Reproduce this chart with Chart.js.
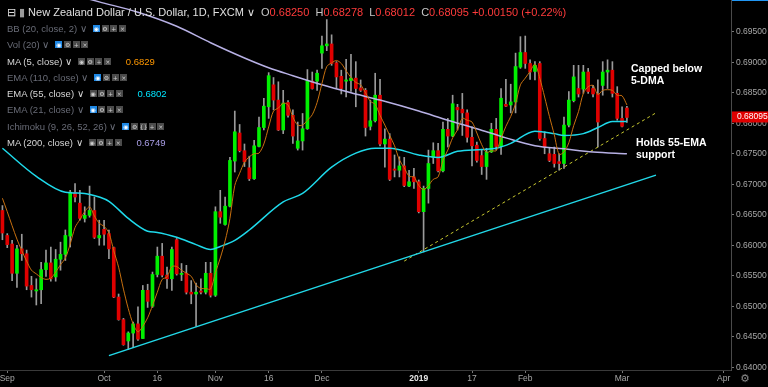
<!DOCTYPE html>
<html>
<head>
<meta charset="utf-8">
<script src="https://cdn.jsdelivr.net/npm/chart.js@4.4.1/dist/chart.umd.min.js"></script>
<style>
html, body { margin: 0; padding: 0; background: #000; }
#wrap { position: relative; width: 768px; height: 387px; overflow: hidden; background: #000; }
canvas { display: block; }
.row { position: absolute; left: 7px; height: 12px; line-height: 12px; font: 9.5px "Liberation Sans", Arial, sans-serif; color: #686b76; white-space: nowrap; }
.row.on { color: #d6d6d6; }
.bx { display: inline-block; width: 7px; height: 7px; margin-right: 1.7px; background: #4b4b4b; vertical-align: middle; position: relative; top: -1px; font: 6px "DejaVu Sans", sans-serif; line-height: 7px; text-align: center; color: #cfcfcf; }
.bx.b { background: #1e88e5; color: #fff; }
.gap { display: inline-block; width: 6px; }
.val { margin-left: 13px; }
#title { position: absolute; left: 7px; top: 6px; font: 11px "Liberation Sans", Arial, sans-serif; color: #e0e0e0; white-space: nowrap; }
#title .r { color: #ff3b3b; }
#title .l { color: #c8c8c8; margin-left: 3px; }
.note { position: absolute; font: bold 10.5px "Liberation Sans", Arial, sans-serif; color: #fff; line-height: 11.5px; }
#gear { position: absolute; left: 740px; top: 372px; font: 11px "DejaVu Sans", sans-serif; color: #8a8a8a; }
#topline { position: absolute; left: 732px; top: 0; width: 36px; height: 1px; background: #2196f3; }
</style>
</head>
<body>
<div id="wrap">
  <canvas id="c" width="768" height="387"></canvas>
  <div id="topline"></div>
  <div id="title">⊟ <span style="color:#9a9a9a">▮</span> New Zealand Dollar / U.S. Dollar, 1D, FXCM ∨
    <span class="l">O</span><span class="r">0.68250</span>
    <span class="l">H</span><span class="r">0.68278</span>
    <span class="l">L</span><span class="r">0.68012</span>
    <span class="l">C</span><span class="r">0.68095 +0.00150 (+0.22%)</span>
  </div>
  <div class="row" style="top:23px">BB (20, close, 2) ∨<span class="gap"></span><span class="bx b">◉</span><span class="bx">⚙</span><span class="bx">+</span><span class="bx">×</span></div>
  <div class="row" style="top:39px">Vol (20) ∨<span class="gap"></span><span class="bx b">◉</span><span class="bx">⚙</span><span class="bx">+</span><span class="bx">×</span></div>
  <div class="row on" style="top:56px">MA (5, close) ∨<span class="gap"></span><span class="bx">◉</span><span class="bx">⚙</span><span class="bx">+</span><span class="bx">×</span><span class="val" style="color:#ff9800">0.6829</span></div>
  <div class="row" style="top:72px">EMA (110, close) ∨<span class="gap"></span><span class="bx b">◉</span><span class="bx">⚙</span><span class="bx">+</span><span class="bx">×</span></div>
  <div class="row on" style="top:88px">EMA (55, close) ∨<span class="gap"></span><span class="bx">◉</span><span class="bx">⚙</span><span class="bx">+</span><span class="bx">×</span><span class="val" style="color:#00e5ff">0.6802</span></div>
  <div class="row" style="top:104px">EMA (21, close) ∨<span class="gap"></span><span class="bx b">◉</span><span class="bx">⚙</span><span class="bx">+</span><span class="bx">×</span></div>
  <div class="row" style="top:121px">Ichimoku (9, 26, 52, 26) ∨<span class="gap"></span><span class="bx b">◉</span><span class="bx">⚙</span><span class="bx">{}</span><span class="bx">+</span><span class="bx">×</span></div>
  <div class="row on" style="top:137px">MA (200, close) ∨<span class="gap"></span><span class="bx">◉</span><span class="bx">⚙</span><span class="bx">+</span><span class="bx">×</span><span class="val" style="color:#a99ee6">0.6749</span></div>
  <div class="note" style="left:631px;top:63px">Capped below<br>5-DMA</div>
  <div class="note" style="left:636px;top:137px">Holds 55-EMA<br>support</div>
  <div id="gear">⚙</div>
</div>
<script>
// daily candles, 31 Aug 2018 .. 4 Mar 2019
var opens = [
  .6657, .6616, .6602, .6554, .6594, .6586, .6534, .6525, .6527, .6560,
  .6571, .6548, .6577, .6585, .6615, .6686, .6669, .6644, .6649, .6657,
  .6612, .6626, .6619, .6596, .6515, .6478, .6443, .6456, .6471, .6447,
  .6526, .6500, .6552, .6582, .6551, .6545, .6609, .6552, .6554, .6523,
  .6520, .6525, .6523, .6554, .6518, .6655, .6634, .6664, .6738, .6784,
  .6755, .6727, .6709, .6762, .6793, .6827, .6863, .6838, .6789, .6834,
  .6813, .6759, .6771, .6791, .6869, .6869, .6915, .6927, .6930, .6899,
  .6877, .6869, .6870, .6874, .6858, .6854, .6795, .6804, .6846, .6766,
  .6774, .6725, .6723, .6730, .6697, .6712, .6704, .6655, .6693, .6744,
  .6755, .6722, .6790, .6779, .6826, .6823, .6817, .6777, .6764, .6747,
  .6729, .6753, .6790, .6762, .6831, .6830, .6835, .6892, .6916, .6898,
  .6885, .6898, .6775, .6750, .6749, .6737, .6734, .6797, .6837, .6857,
  .6856, .6884, .6857, .6848, .6862, .6884, .6887, .6849, .6808, .68250
];
var highs = [
  .6665, .6619, .6608, .6600, .6618, .6592, .6549, .6545, .6572, .6592,
  .6597, .6593, .6605, .6625, .6690, .6701, .6690, .6663, .6697, .6679,
  .6641, .6641, .6625, .6597, .6520, .6480, .6458, .6474, .6499, .6534,
  .6536, .6556, .6597, .6603, .6564, .6597, .6611, .6570, .6567, .6542,
  .6538, .6545, .6572, .6572, .6663, .6690, .6679, .6744, .6820, .6798,
  .6766, .6746, .6772, .6810, .6841, .6883, .6875, .6868, .6854, .6837,
  .6822, .6802, .6816, .6888, .6884, .6887, .6943, .6970, .6945, .6901,
  .6887, .6905, .6913, .6901, .6871, .6857, .6838, .6882, .6872, .6791,
  .6783, .6748, .6745, .6744, .6723, .6726, .6707, .6697, .6756, .6768,
  .6767, .6802, .6808, .6846, .6831, .6849, .6822, .6794, .6769, .6756,
  .6759, .6800, .6808, .6857, .6872, .6864, .6915, .6942, .6943, .6904,
  .6901, .6901, .6786, .6759, .6761, .6750, .6810, .6852, .6895, .6895,
  .6895, .6890, .6862, .6871, .6901, .6904, .6901, .6860, .6827, .68278
];
var lows = [
  .6609, .6596, .6542, .6531, .6575, .6527, .6515, .6502, .6504, .6549,
  .6541, .6541, .6559, .6575, .6597, .6671, .6641, .6638, .6646, .6611,
  .6600, .6600, .6578, .6514, .6477, .6436, .6429, .6432, .6444, .6447,
  .6498, .6498, .6548, .6548, .6529, .6526, .6551, .6542, .6520, .6504,
  .6467, .6520, .6520, .6515, .6516, .6636, .6633, .6663, .6720, .6753,
  .6729, .6706, .6708, .6761, .6789, .6808, .6822, .6788, .6783, .6810,
  .6767, .6756, .6756, .6790, .6856, .6854, .6890, .6919, .6895, .6857,
  .6848, .6843, .6852, .6827, .6852, .6779, .6789, .6802, .6763, .6728,
  .6706, .6712, .6712, .6696, .6696, .6693, .6653, .6589, .6669, .6734,
  .6720, .6720, .6761, .6778, .6789, .6780, .6769, .6730, .6736, .6716,
  .6708, .6752, .6756, .6749, .6827, .6817, .6817, .6890, .6890, .6872,
  .6871, .6772, .6750, .6737, .6728, .6723, .6726, .6794, .6835, .6843,
  .6849, .6849, .6843, .6761, .6846, .6857, .6843, .6805, .6794, .68012
];
var closes = [
  .6620, .6601, .6554, .6594, .6586, .6533, .6527, .6527, .6560, .6571,
  .6545, .6577, .6585, .6616, .6687, .6679, .6644, .6649, .6657, .6613,
  .6616, .6618, .6594, .6515, .6478, .6437, .6456, .6471, .6446, .6526,
  .6508, .6552, .6582, .6551, .6545, .6593, .6553, .6554, .6523, .6520,
  .6523, .6523, .6554, .6518, .6655, .6646, .6664, .6739, .6786, .6755,
  .6737, .6709, .6763, .6793, .6828, .6878, .6838, .6789, .6833, .6813,
  .6779, .6771, .6791, .6870, .6857, .6882, .6927, .6930, .6898, .6876,
  .6857, .6871, .6874, .6857, .6854, .6793, .6804, .6846, .6766, .6774,
  .6708, .6723, .6730, .6698, .6704, .6704, .6655, .6693, .6734, .6755,
  .6722, .6790, .6779, .6832, .6822, .6817, .6777, .6763, .6739, .6729,
  .6753, .6790, .6762, .6841, .6828, .6835, .6893, .6916, .6898, .6884,
  .6895, .6775, .6761, .6739, .6734, .6734, .6797, .6838, .6876, .6848,
  .6884, .6852, .6848, .6802, .6884, .6887, .6849, .6808, .6795, .68095
];

// MA (5, close)
var ma5 = [
  .6677, .6655, .6632, .6610, .6591, .6574, .6559, .6553, .6547, .6544,
  .6546, .6556, .6568, .6579, .6602, .6629, .6642, .6655, .6663, .6648,
  .6636, .6631, .6620, .6591, .6564, .6528, .6496, .6471, .6458, .6467,
  .6481, .6501, .6523, .6544, .6548, .6565, .6565, .6559, .6554, .6549,
  .6535, .6529, .6529, .6528, .6555, .6579, .6607, .6644, .6698, .6718,
  .6736, .6745, .6750, .6751, .6766, .6794, .6820, .6825, .6833, .6830,
  .6810, .6797, .6797, .6805, .6814, .6834, .6865, .6893, .6899, .6903,
  .6898, .6886, .6875, .6867, .6863, .6850, .6836, .6831, .6813, .6797,
  .6780, .6763, .6740, .6727, .6713, .6712, .6698, .6691, .6698, .6708,
  .6712, .6739, .6756, .6776, .6789, .6808, .6805, .6802, .6784, .6765,
  .6752, .6755, .6755, .6775, .6795, .6811, .6832, .6863, .6874, .6885,
  .6897, .6874, .6843, .6811, .6781, .6749, .6753, .6768, .6796, .6819,
  .6849, .6860, .6862, .6847, .6854, .6855, .6854, .6846, .6845, .6830
];

// EMA (55, close), read at these bars
var ema55Idx = [0, 7, 13, 17, 20, 22, 26, 30, 32, 36, 40, 43, 45, 48, 51, 58, 62, 68, 73, 77, 80, 86, 90, 94, 99, 102, 105, 110, 114, 116, 120, 123, 126, 129];
var ema55Val = [.6759, .6713, .6687, .6685, .6679, .6672, .6644, .6623, .6621, .6613, .6601, .6593, .6598, .6608, .6625, .6671, .6685, .6728, .6751, .6759, .6759, .6748, .6744, .6754, .6757, .6759, .6767, .6787, .6783, .6780, .6783, .6793, .6803, .6803];

// MA (200, close), read at these bars
var ma200Idx = [14, 20, 28, 36, 43, 50, 55, 60, 66, 72, 78, 86, 92, 98, 104, 110, 116, 122, 129];
var ma200Val = [.7012, .6999, .6982, .6959, .6932, .6907, .6891, .6878, .6863, .6850, .6838, .6820, .6805, .6791, .6776, .6763, .6758, .6753, .6750];

// hand drawn trend lines: [bar, price] ends
var supportLine = [[22, .6419], [135, .6715]];
var dashedLine = [[83, .6574], [135, .6817]];

var tickIdx = [1, 21, 32, 44, 55, 66, 86, 97, 108, 128, 149];
var tickText = ["Sep", "Oct", "16", "Nov", "16", "Dec", "2019", "17", "Feb", "Mar", "Apr"];
var yTicks = [.640, .645, .650, .655, .660, .665, .670, .675, .680, .685, .690, .695];

/* trading days on the axis */
var dates = [];
var holidays = ["2018-12-25", "2019-01-01"];
for (var d = new Date(Date.UTC(2018, 7, 31)); dates.length < 151; d.setUTCDate(d.getUTCDate() + 1)) {
  var w = d.getUTCDay();
  if (w == 0 || w == 6) continue;
  var s = d.toISOString().slice(0, 10);
  if (holidays.indexOf(s) >= 0) continue;
  dates.push(s);
}

function pts(idx, vals) {
  return idx.map(function(i, k) { return { x: dates[i], y: vals[k] }; });
}
function seg(p) {
  return p.map(function(q) { return { x: dates[q[0]], y: q[1] }; });
}

var green = "#00f000", red = "#e00000";
var bodyColors = opens.map(function(o, i) { return closes[i] >= o ? green : red; });
var lastPrice = closes[closes.length - 1];

/* red price box on the scale */
var priceTag = {
  id: "priceTag",
  afterDraw: function(chart) {
    var ctx = chart.ctx, y = chart.scales.y, area = chart.chartArea;
    var yy = y.getPixelForValue(lastPrice);
    ctx.save();
    ctx.fillStyle = "#e00000";
    ctx.fillRect(area.right + 1, yy - 6, 37, 11);
    ctx.fillStyle = "#fff";
    ctx.font = "8.5px 'Liberation Sans', Arial, sans-serif";
    ctx.textBaseline = "middle";
    ctx.fillText(lastPrice.toFixed(5), area.right + 6, yy - 0.5);
    ctx.restore();
  }
};

var chart = new Chart(document.getElementById("c"), {
  type: "bar",
  data: {
    labels: dates,
    datasets: [
      {
        type: "line", label: "MA 5", data: ma5, borderColor: "#c8700f", borderWidth: 1,
        pointRadius: 0, tension: 0.3, order: 0
      },
      {
        type: "line", label: "EMA 55", data: pts(ema55Idx, ema55Val), borderColor: "#1ed9ea", borderWidth: 1.5,
        pointRadius: 0, cubicInterpolationMode: "monotone", spanGaps: true, order: 0
      },
      {
        type: "line", label: "MA 200", data: pts(ma200Idx, ma200Val), borderColor: "#b7b0e4", borderWidth: 1.5,
        pointRadius: 0, cubicInterpolationMode: "monotone", spanGaps: true, order: 0
      },
      {
        type: "line", label: "support", data: seg(supportLine), borderColor: "#22d8e8", borderWidth: 1.5,
        pointRadius: 0, order: 0
      },
      {
        type: "line", label: "dashed", data: seg(dashedLine), borderColor: "#c9c930", borderWidth: 1,
        borderDash: [3, 3], pointRadius: 0, order: 0
      },
      {
        label: "body", data: opens.map(function(o, i) { return [o, closes[i]]; }),
        backgroundColor: bodyColors, barThickness: 3, minBarLength: 1, grouped: false, order: 1
      },
      {
        label: "wick", data: lows.map(function(l, i) { return [l, highs[i]]; }),
        backgroundColor: "#9a9a9a", barThickness: 1, grouped: false, order: 2
      }
    ]
  },
  options: {
    responsive: false,
    animation: false,
    layout: { padding: 0 },
    plugins: { legend: { display: false }, tooltip: { enabled: false } },
    scales: {
      x: {
        type: "category",
        offset: true,
        grid: {
          drawOnChartArea: false, drawTicks: true, tickLength: 3, offset: false,
          color: function(c) { return tickIdx.indexOf(c.index) >= 0 ? "#777" : "rgba(0,0,0,0)"; }
        },
        border: { color: "#3a3a3a" },
        ticks: {
          autoSkip: false, maxRotation: 0, padding: 1,
          color: function(c) { return c.tick && c.tick.label == "2019" ? "#e8e8e8" : "#a8a8a8"; },
          font: function(c) {
            return c.tick && c.tick.label == "2019"
              ? { family: "Liberation Sans", size: 8.5, weight: "bold" }
              : { family: "Liberation Sans", size: 8.5 };
          },
          callback: function(v, i) {
            var k = tickIdx.indexOf(i);
            return k >= 0 ? tickText[k] : "";
          }
        },
        afterFit: function(s) { s.height = 17; s.paddingLeft = 0; s.paddingRight = 0; }
      },
      y: {
        position: "right",
        min: 0.63954,
        max: 0.70021,
        grid: { drawOnChartArea: false, drawTicks: true, tickLength: 3, color: "#777" },
        border: { color: "#4a4a4a" },
        afterBuildTicks: function(s) { s.ticks = yTicks.map(function(v) { return { value: v }; }); },
        ticks: {
          padding: 2, color: "#a8a8a8",
          font: { family: "Liberation Sans", size: 8.5 },
          callback: function(v) { return v.toFixed(5); }
        },
        afterFit: function(s) { s.width = 37; s.paddingTop = 0; s.paddingBottom = 0; }
      }
    }
  },
  plugins: [priceTag]
});
</script>
</body>
</html>
